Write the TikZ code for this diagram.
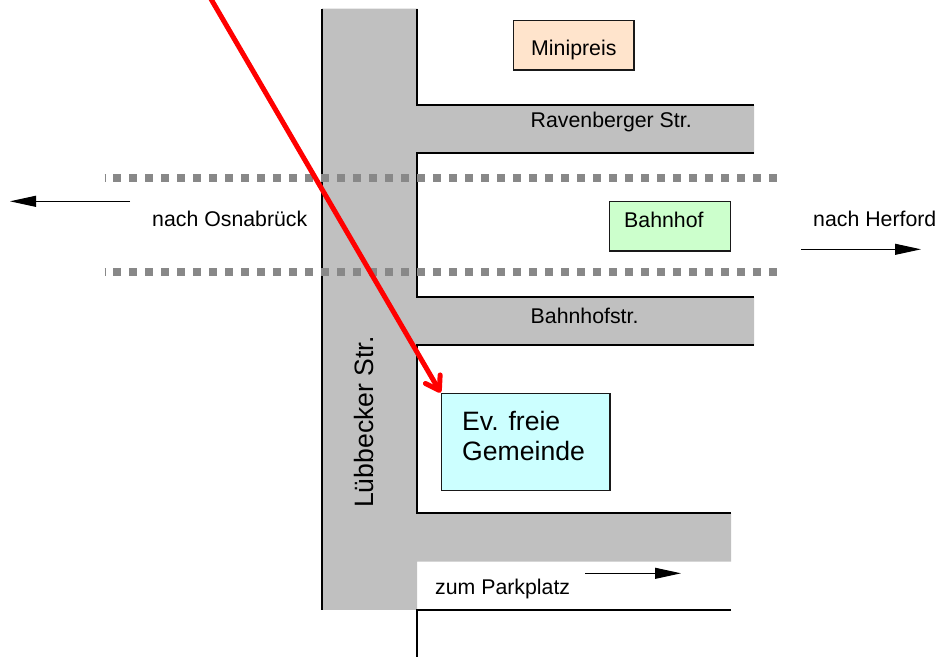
\documentclass[tikz,border=0pt]{standalone}
\usepackage{fontspec}
\setmainfont{Liberation Sans}
\usetikzlibrary{arrows.meta}
\definecolor{road}{HTML}{C0C0C0}
\definecolor{track}{HTML}{888888}
\definecolor{miniFill}{HTML}{FFE4CC}
\definecolor{bhfFill}{HTML}{CCFFCC}
\definecolor{churchFill}{HTML}{CCFFFF}
\tikzset{
  x=1pt,y=-1pt,
  edge/.style={draw=black,line width=1.3pt},
  track line/.style={draw=track,line width=8pt,dash pattern=on 8pt off 8pt,dash phase=7.7pt},
  box/.style={draw=black!90,line width=1.4pt,inner sep=0pt,anchor=north west},
  lab/.style={font=\fontsize{21.3}{25}\selectfont,inner sep=0pt,anchor=base west,text=black},
  biglab/.style={font=\fontsize{26.6}{30}\selectfont,inner sep=0pt,anchor=base west,text=black},
  dir/.style={draw=black,line width=1pt,-{Triangle[length=26pt,width=11pt]}},
  route/.style={draw=red,line width=5pt,line cap=round,-{Straight Barb[length=13pt,width=17pt,line width=5pt,round]}}
}
\begin{document}
\begin{tikzpicture}
\useasboundingbox (0,0) rectangle (939,657);
% road surface
\fill[road] (322,8.7) -- (417,8.7) -- (417,105) -- (754,105) -- (754,153) -- (417,153) -- (417,297) -- (754,297) -- (754,345) -- (417,345) -- (417,513) -- (731,513) -- (731,561.7) -- (417,561.7) -- (417,609.8) -- (322,609.8) -- cycle;
% road edges
\draw[edge] (322,8.7) -- (322,610);
\draw[edge] (417,8.7) -- (417,105) -- (754,105);
\draw[edge] (754,153) -- (417,153) -- (417,297) -- (754,297);
\draw[edge] (754,345) -- (417,345) -- (417,513) -- (731,513);
\draw[edge] (731,610) -- (417,610) -- (417,657);
% railway
\draw[track line] (104.7,178) -- (778,178);
\draw[track line] (104.7,272) -- (778,272);
% boxes
\node[box,fill=miniFill,minimum width=120.8pt,minimum height=49.5pt] (mini) at (512.5,19.8) {};
\node[lab] at (531,55) {Minipreis};
\node[box,fill=bhfFill,minimum width=120.8pt,minimum height=49.5pt] (bhf) at (608.7,200.6) {};
\node[lab] at (624,227) {Bahnhof};
\node[box,fill=churchFill,minimum width=168.6pt,minimum height=97pt] (kirche) at (440.6,392.6) {};
\node[biglab] at (462,430) {Ev. freie};
\node[biglab] at (462,460) {Gemeinde};
% labels
\node[lab] (rav) at (530.5,127) {Ravenberger Str.};
\node[lab] (bstr) at (530.5,323) {Bahnhofstr.};
\node[lab] (osn) at (152,226) {nach Osnabrück};
\node[lab] (her) at (813,226) {nach Herford};
\node[lab] (park) at (435,594) {zum Parkplatz};
\node[biglab,rotate=90] (lub) at (373.5,508) {Lübbecker Str.};
% direction arrows
\coordinate (o1) at (130,201.3); \coordinate (o2) at (10,201.3);
\coordinate (h1) at (801,249.3); \coordinate (h2) at (921,249.3);
\coordinate (p1) at (585,573.3); \coordinate (p2) at (681,573.3);
\draw[dir] (o1) -- (o2);
\draw[dir] (h1) -- (h2);
\draw[dir] (p1) -- (p2);
% route
\coordinate (r0) at (211,-1);
\draw[route] (r0) -- (kirche.north west);
\end{tikzpicture}
\end{document}
